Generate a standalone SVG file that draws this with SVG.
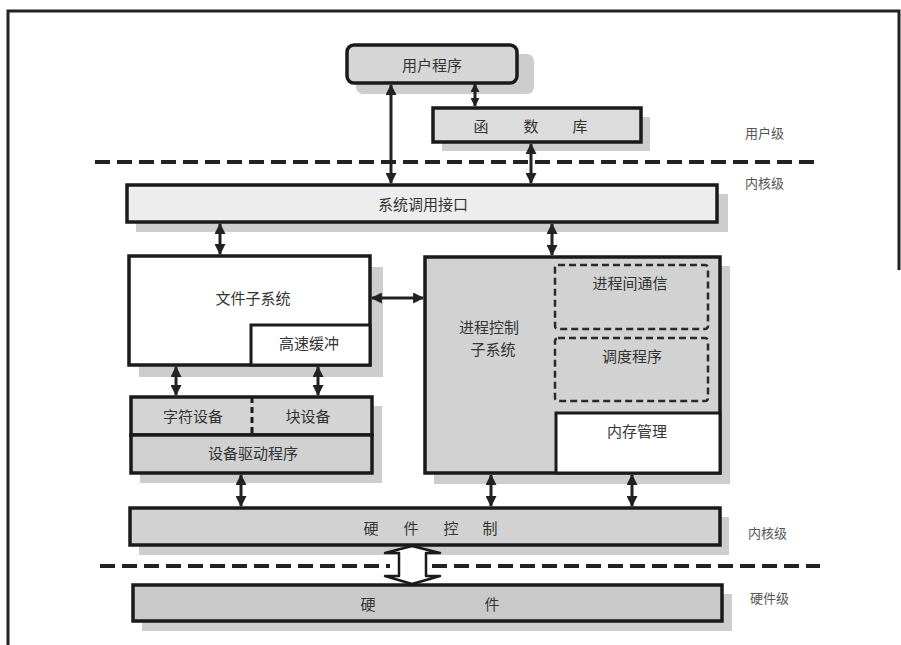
<svg xmlns="http://www.w3.org/2000/svg" width="901" height="645" viewBox="0 0 901 645">
<defs>
<marker id="ah" viewBox="0 0 10 10" refX="9" refY="5" markerWidth="12" markerHeight="11" markerUnits="userSpaceOnUse" orient="auto-start-reverse">
<path d="M0,0 L10,5 L0,10 z" fill="#222"/>
</marker>
<marker id="ahs" viewBox="0 0 10 10" refX="9" refY="5" markerWidth="9" markerHeight="9" markerUnits="userSpaceOnUse" orient="auto-start-reverse">
<path d="M0,0 L10,5 L0,10 z" fill="#222"/>
</marker>
</defs>
<style>
.box{stroke:#1a1a1a;stroke-width:3.5}
.thin{stroke:#1a1a1a;stroke-width:3}
.dbox{stroke:#2a2a2a;stroke-width:2.5;stroke-dasharray:7 4;fill:none}
.sh{fill:#cdcdcd}
.t{font-family:"Noto Sans CJK SC","Noto Sans CJK TC",sans-serif;font-size:15px;fill:#333;text-anchor:middle;dominant-baseline:central}
.lv{font-family:"Noto Sans CJK SC",sans-serif;font-size:13px;fill:#555;dominant-baseline:central}
.con{stroke:#222;stroke-width:3;fill:none;marker-start:url(#ah);marker-end:url(#ah)}
.sep{stroke:#222;stroke-width:4;stroke-dasharray:15 7;fill:none}
</style>
<rect width="901" height="645" fill="#fff"/>
<path d="M8,645 L8,11 L899,11 L899,270" fill="none" stroke="#222" stroke-width="3"/>

<g id="sep-lines">
<line class="sep" x1="95" y1="162" x2="815" y2="162"/>
<line class="sep" x1="100" y1="566" x2="390" y2="566"/>
<line class="sep" x1="432" y1="566" x2="820" y2="566"/>
</g>

<g id="user-program">
<rect class="sh" x="356" y="54" width="178" height="40" rx="7"/>
<rect class="box" x="347" y="45" width="170" height="38" rx="7" fill="#d6d6d6"/>
<text class="t" x="432" y="64">用户程序</text>
</g>

<g id="library">
<rect class="sh" x="442" y="117" width="208" height="34"/>
<rect class="box" x="433" y="108" width="208" height="34" fill="#dcdcdc"/>
<text class="t" x="481" y="125">函</text>
<text class="t" x="531" y="125">数</text>
<text class="t" x="580" y="125">库</text>
</g>

<g id="syscall">
<rect class="sh" x="136" y="194" width="592" height="38"/>
<rect class="box" x="127" y="185" width="590" height="37" fill="#ededed"/>
<text class="t" x="423" y="203">系统调用接口</text>
</g>

<g id="file-subsystem">
<rect class="sh" x="139" y="267" width="244" height="110"/>
<rect class="box" x="129" y="256" width="241" height="109" fill="#fff"/>
<text class="t" x="253" y="297">文件子系统</text>
<rect class="thin" x="251" y="325" width="119" height="40" fill="#fff"/>
<text class="t" x="309" y="342">高速缓冲</text>
</g>

<g id="devices">
<rect class="sh" x="140" y="406" width="242" height="77"/>
<rect class="box" x="131" y="397" width="241" height="38" fill="#d4d4d4"/>
<line x1="252" y1="397" x2="252" y2="435" stroke="#1a1a1a" stroke-width="3" stroke-dasharray="6 4"/>
<text class="t" x="193" y="415">字符设备</text>
<text class="t" x="308" y="415">块设备</text>
</g>

<g id="device-driver">
<rect class="box" x="131" y="435" width="241" height="38" fill="#d0d0d0"/>
<text class="t" x="253" y="452">设备驱动程序</text>
</g>

<g id="process-control">
<rect class="sh" x="434" y="266" width="296" height="218"/>
<rect class="box" x="425" y="257" width="295" height="216" fill="#d2d2d2"/>
<text class="t" x="489" y="326">进程控制</text>
<text class="t" x="493" y="348">子系统</text>
</g>

<g id="ipc">
<rect class="dbox" x="555" y="265" width="153" height="64" rx="3"/>
<text class="t" x="630" y="282">进程间通信</text>
</g>

<g id="scheduler">
<rect class="dbox" x="555" y="338" width="153" height="63" rx="3"/>
<text class="t" x="632" y="355">调度程序</text>
</g>

<g id="memory">
<rect class="thin" x="556" y="413" width="164" height="60" fill="#fff"/>
<text class="t" x="637" y="430">内存管理</text>
</g>

<g id="hw-control">
<rect class="sh" x="139" y="517" width="590" height="38"/>
<rect class="box" x="130" y="508" width="590" height="37" fill="#d2d2d2"/>
<text class="t" x="371" y="527">硬</text>
<text class="t" x="411" y="527">件</text>
<text class="t" x="451" y="527">控</text>
<text class="t" x="490" y="527">制</text>
</g>

<g id="hardware">
<rect class="sh" x="142" y="594" width="590" height="37"/>
<rect class="box" x="133" y="585" width="589" height="36" fill="#c9c9c9"/>
<text class="t" x="368" y="603">硬</text>
<text class="t" x="492" y="603">件</text>
</g>

<g id="levels">
<text class="lv" x="745" y="132">用户级</text>
<text class="lv" x="745" y="182">内核级</text>
<text class="lv" x="748" y="532">内核级</text>
<text class="lv" x="750" y="597">硬件级</text>
</g>

<g id="connectors">
<line x1="475" y1="84" x2="475" y2="106" stroke="#222" stroke-width="3" marker-start="url(#ahs)" marker-end="url(#ahs)"/>
<line class="con" x1="391" y1="85" x2="391" y2="183"/>
<line class="con" x1="531" y1="144" x2="531" y2="183"/>
<line class="con" x1="220" y1="224" x2="220" y2="254"/>
<line class="con" x1="552" y1="224" x2="552" y2="255"/>
<line class="con" x1="372" y1="298" x2="423" y2="298"/>
<line class="con" x1="176" y1="367" x2="176" y2="395"/>
<line class="con" x1="318" y1="367" x2="318" y2="395"/>
<line class="con" x1="241" y1="475" x2="241" y2="506"/>
<line class="con" x1="491" y1="475" x2="491" y2="506"/>
<line class="con" x1="632" y1="475" x2="632" y2="506"/>
<path d="M412,546 L440,553 L426,553 L426,576 L440,576 L412,584 L385,576 L399,576 L399,553 L385,553 Z" fill="#fff" stroke="#1a1a1a" stroke-width="2.5" stroke-linejoin="round"/>
</g>
</svg>
